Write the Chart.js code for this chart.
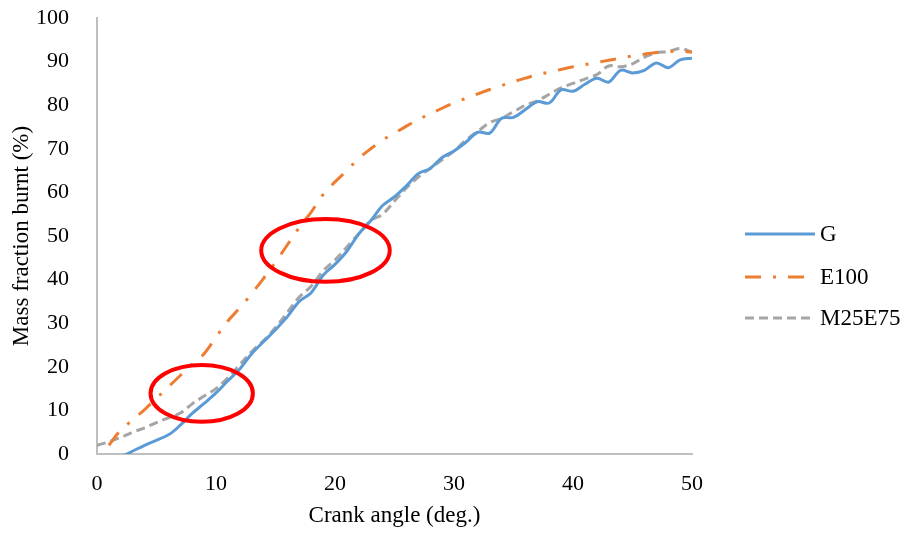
<!DOCTYPE html>
<html>
<head>
<meta charset="utf-8">
<script src="https://cdn.jsdelivr.net/npm/chart.js@4.4.1/dist/chart.umd.min.js"></script>
<style>
    html, body { margin: 0; padding: 0; background: #fff; }
    #wrap { width: 906px; height: 534px; }
</style>
</head>
<body>
<div id="wrap"><canvas id="myChart" width="906" height="534"></canvas></div>
<script>
"use strict";

// crank angle (deg.) and mass fraction burnt (%)
const gAngle = [1.5, 2.5, 4, 6, 7, 8, 9, 10, 11, 12, 13, 14, 15, 16, 17, 18, 19, 20, 21, 22, 23, 24, 25,
    26, 27, 28, 29, 30, 31, 32, 33, 34, 35, 36, 37, 38, 39, 40, 41, 42, 43, 44, 45, 46, 47, 48, 49, 50];
const gMfb = [-1, 0, 2, 4.4, 6.6, 9.3, 11.6, 14, 16.8, 19.5, 23, 25.8, 28.5, 31.5, 35, 37, 41, 43.5, 46.5, 50.5, 53.5, 57, 59,
    61.5, 64.3, 65.5, 68, 69.5, 71.5, 73.8, 73.6, 77, 77.2, 79, 80.8, 80.5, 83.5, 83.2, 84.8, 86.2, 85.3, 88, 87.4, 88, 89.7, 88.6, 90.4, 90.8];

const e100Angle = [1, 2, 3, 4, 5, 6, 7, 8, 9, 10, 11, 12, 13, 14, 15, 16, 17, 18, 19, 20, 21, 22, 23, 24, 25,
    26, 27, 28, 29, 30, 31, 32, 33, 34, 35, 36, 37, 38, 39, 40, 41, 42, 43, 44, 45, 46, 47, 48, 49, 50];
const e100Mfb = [2, 5.5, 7.8, 10.2, 12.8, 15.4, 18, 20.5, 23, 26.8, 30.5, 33.5, 36.8, 40.3, 44, 48, 52, 55.5, 59.5, 62.4, 65, 67.8, 70, 72, 73.6,
    75.2, 76.7, 78, 79.3, 80.5, 81.6, 82.6, 83.6, 84.5, 85.4, 86.2, 87, 87.6, 88.2, 88.8, 89.3, 89.8, 90.3, 90.8, 91.3, 91.7, 92.1, 92.3, 92.4, 92.2];

const mAngle = [0, 1, 2, 3, 4, 5, 6, 7, 8, 9, 10, 11, 12, 13, 14, 15, 16, 17, 18, 19, 20, 21, 22, 23, 24, 25,
    26, 27, 28, 29, 30, 31, 32, 33, 34, 35, 36, 37, 38, 39, 40, 41, 42, 43, 44, 45, 46, 47, 48, 49, 50];
const mMfb = [2, 2.8, 3.8, 5, 6, 7.2, 8.3, 9.4, 11.5, 13.3, 15, 17.5, 20.5, 23.5, 26, 29, 32.5, 36, 38.5, 42, 44.5, 47.5, 50.5, 53.5, 55, 58,
    61, 63.5, 65.5, 67.5, 69.5, 72, 74, 76, 77, 78.5, 80, 81, 82.5, 84, 85, 86, 87, 89, 88.8, 89.5, 91, 92, 92.3, 93, 92.2];

const seriesNames = ['G', 'E100', 'M25E75'];
const xTicks = [0, 10, 20, 30, 40, 50];
const yTicks = [0, 10, 20, 30, 40, 50, 60, 70, 80, 90, 100];

// red ellipses marked on the chart, in data units: [centre angle, centre mfb, half width, half height]
const ellipses = [
    [8.8, 13.9, 4.3, 6.5],
    [19.2, 46.7, 5.4, 7.2]
];

const colors = ['#5b9bd5', '#ed7d31', '#a5a5a5'];
const dashes = [[], [16, 12, 3, 12], [9, 5]];
const serif = "'Liberation Serif', 'Times New Roman', serif";

function toPoints(xs, ys) {
    return xs.map((x, i) => ({x: x, y: ys[i]}));
}

const ellipsePlugin = {
    id: 'ellipses',
    afterDatasetsDraw(chart) {
        const ctx = chart.ctx;
        const xs = chart.scales.x;
        const ys = chart.scales.y;
        ctx.save();
        ctx.strokeStyle = '#ff0000';
        ctx.lineWidth = 4;
        ellipses.forEach((e) => {
            const cx = xs.getPixelForValue(e[0]);
            const cy = ys.getPixelForValue(e[1]);
            const rx = Math.abs(xs.getPixelForValue(e[0] + e[2]) - cx);
            const ry = Math.abs(ys.getPixelForValue(e[1] + e[3]) - cy);
            ctx.beginPath();
            ctx.ellipse(cx, cy, rx, ry, 0, 0, Math.PI * 2);
            ctx.stroke();
        });
        ctx.restore();
    }
};

const legendPlugin = {
    id: 'sideLegend',
    afterDraw(chart) {
        const ctx = chart.ctx;
        const rows = [234, 277, 318];
        ctx.save();
        chart.data.datasets.forEach((ds, i) => {
            const y = rows[i];
            ctx.beginPath();
            ctx.strokeStyle = ds.borderColor;
            ctx.lineWidth = 3;
            ctx.setLineDash(ds.borderDash || []);
            ctx.moveTo(745, y);
            ctx.lineTo(815, y);
            ctx.stroke();
            ctx.setLineDash([]);
            ctx.fillStyle = '#000';
            ctx.font = '23px ' + serif;
            ctx.textBaseline = 'middle';
            ctx.fillText(ds.label, 820, y + 1);
        });
        ctx.restore();
    }
};

const ctx = document.getElementById('myChart');

const chart = new Chart(ctx, {
    type: 'line',
    data: {
        datasets: [
            {label: seriesNames[0], data: toPoints(gAngle, gMfb)},
            {label: seriesNames[1], data: toPoints(e100Angle, e100Mfb)},
            {label: seriesNames[2], data: toPoints(mAngle, mMfb)}
        ].map((ds, i) => Object.assign(ds, {
            borderColor: colors[i],
            borderDash: dashes[i],
            borderWidth: 3,
            pointRadius: 0,
            fill: false,
            tension: 0.35
        }))
    },
    options: {
        responsive: false,
        animation: false,
        layout: {padding: {left: 0, top: 18, right: 214, bottom: 0}},
        plugins: {
            legend: {display: false},
            tooltip: {enabled: false}
        },
        scales: {
            x: {
                type: 'linear',
                min: 0,
                max: 50,
                afterBuildTicks: (scale) => { scale.ticks = xTicks.map((v) => ({value: v})); },
                grid: {display: false},
                border: {display: true, color: '#bfbfbf', width: 2},
                ticks: {color: '#000', font: {family: serif, size: 22}, padding: 9},
                title: {display: true, text: 'Crank angle (deg.)', color: '#000',
                    font: {family: serif, size: 23}, padding: {top: 4}},
                afterFit: (scale) => { scale.height = 80; }
            },
            y: {
                min: 0,
                max: 100,
                afterBuildTicks: (scale) => { scale.ticks = yTicks.map((v) => ({value: v})); },
                grid: {display: false},
                border: {display: true, color: '#bfbfbf', width: 2},
                ticks: {color: '#000', font: {family: serif, size: 22}, padding: 20},
                title: {display: true, text: 'Mass fraction burnt (%)', color: '#000',
                    font: {family: serif, size: 23}, padding: {top: 8, bottom: 6}},
                afterFit: (scale) => {
                    scale.width = 97;
                    scale.paddingTop = 0;
                    scale.paddingBottom = 0;
                }
            }
        }
    },
    plugins: [ellipsePlugin, legendPlugin]
});
</script>
</body>
</html>
